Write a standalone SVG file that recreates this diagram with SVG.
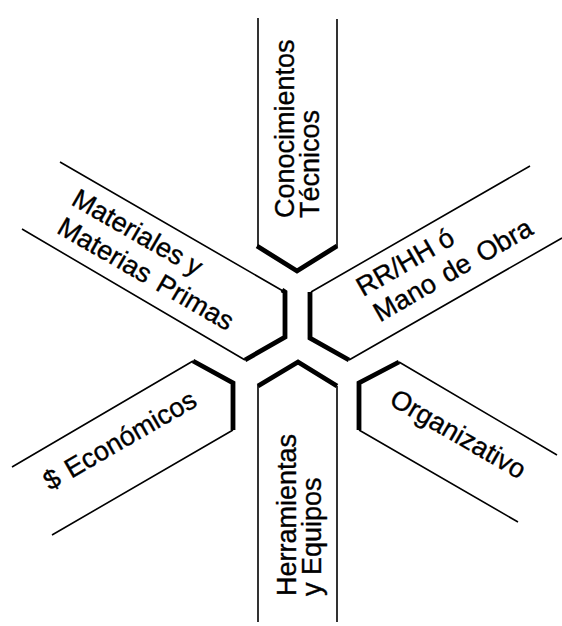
<svg xmlns="http://www.w3.org/2000/svg" width="562" height="626" viewBox="0 0 562 626">
<style>
.thin{fill:none;stroke:#000;stroke-width:1.6;stroke-linecap:butt}
.thick{fill:none;stroke:#000;stroke-width:4.8;stroke-linejoin:miter;stroke-linecap:butt}
text{font-family:"Liberation Sans",Arial,sans-serif;font-size:27px;fill:#000;stroke:#000;stroke-width:0.35}
</style>
<rect width="562" height="626" fill="#fff"/>
<g id="connectors"></g>
<g id="node-conocimientos">
<path class="thin" d="M258,18 V247 M337,19 V247"/>
<path class="thick" d="M257,246 L297,271 L337,246"/>
<text transform="translate(294,218) rotate(-90)">Conocimientos</text>
<text transform="translate(319,218) rotate(-90)">Técnicos</text>
</g>
<g id="node-materiales">
<path class="thin" d="M60,162 L283,291 M245,360 L22,229"/>
<path class="thick" d="M282,290 L285,292 V337 L245,360"/>
<text transform="translate(70,204) rotate(30)">Materiales y</text>
<text transform="translate(55.6,232.3) rotate(30)" word-spacing="3">Materias Primas</text>
</g>
<g id="node-rrhh">
<path class="thin" d="M530,166 L311,292 M349,360 L562,238"/>
<path class="thick" d="M310,292 V338 L349,360"/>
<text transform="translate(363,297) rotate(-30)">RR/HH ó</text>
<text transform="translate(380,322.6) rotate(-30)" word-spacing="3">Mano de Obra</text>
</g>
<g id="node-economicos">
<path class="thin" d="M193,361 L12,467 M233,430 L52,535"/>
<path class="thick" d="M193,361 L233,383 V430"/>
<text transform="translate(50,491) rotate(-30)" word-spacing="2">$ Económicos</text>
</g>
<g id="node-herramientas">
<path class="thin" d="M258,385 V622 M337,386 V622"/>
<path class="thick" d="M258,386 L298,362 L337,386"/>
<text transform="translate(296,596) rotate(-90)">Herramientas</text>
<text transform="translate(321,596) rotate(-90)">y Equipos</text>
</g>
<g id="node-organizativo">
<path class="thin" d="M399,362 L557,455 M359,430 L518,522"/>
<path class="thick" d="M399,362 L359,383 V430"/>
<text transform="translate(388,404) rotate(30)">Organizativo</text>
</g>
</svg>
